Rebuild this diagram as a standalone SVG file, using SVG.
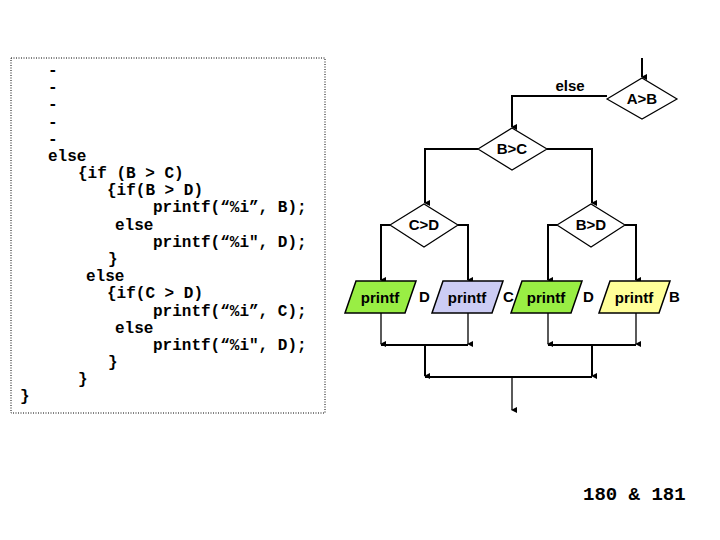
<svg xmlns="http://www.w3.org/2000/svg" width="720" height="540" viewBox="0 0 720 540">
<defs>
<marker id="ah" markerWidth="8" markerHeight="8" refX="4" refY="6" orient="auto" markerUnits="userSpaceOnUse" viewBox="0 0 8 8"><path d="M1,1 L4,7 L7,1 Z" fill="#000"/></marker>
<style>
.code{font-family:"Liberation Mono",monospace;font-weight:bold;font-size:16px;fill:#000}
.lbl{font-family:"Liberation Sans",Arial,sans-serif;font-weight:bold;font-size:15px;fill:#000}
.ln{fill:none;stroke:#000;stroke-width:2}
.thin{fill:none;stroke:#000;stroke-width:1.3}
.dia{fill:#fff;stroke:#000;stroke-width:1.2}
.par{stroke:#000;stroke-width:1.5}
</style>
</defs>
<rect x="11" y="58" width="314" height="355" fill="#fff" stroke="#000" stroke-width="1" stroke-dasharray="1,1.5"/>
<g class="code">
<text x="48" y="75">-</text>
<text x="48" y="92">-</text>
<text x="48" y="109">-</text>
<text x="48" y="127">-</text>
<text x="48" y="144">-</text>
<text x="48" y="161">else</text>
<text x="78" y="178">{if (B &gt; C)</text>
<text x="107" y="195">{if(B &gt; D)</text>
<text x="153" y="212">printf(“%i”, B);</text>
<text x="115" y="230">else</text>
<text x="153" y="247">printf(“%i″, D);</text>
<text x="108" y="264">}</text>
<text x="86" y="281">else</text>
<text x="107" y="298">{if(C &gt; D)</text>
<text x="153" y="316">printf(“%i”, C);</text>
<text x="115" y="333">else</text>
<text x="153" y="350">printf(“%i″, D);</text>
<text x="108" y="367">}</text>
<text x="78" y="384">}</text>
<text x="20" y="401">}</text>
</g>
<g id="connectors">
<path class="ln" d="M642,58 V77" marker-end="url(#ah)"/>
<path class="ln" d="M607,96 H512 V127" marker-end="url(#ah)"/>
<path class="ln" d="M478,149 H425 V203" marker-end="url(#ah)"/>
<path class="ln" d="M547,149 H592 V203" marker-end="url(#ah)"/>
<path class="ln" d="M390,225 H381 V280" marker-end="url(#ah)"/>
<path class="ln" d="M458,225 H468 V280" marker-end="url(#ah)"/>
<path class="ln" d="M557,225 H548 V280" marker-end="url(#ah)"/>
<path class="ln" d="M625,225 H636 V280" marker-end="url(#ah)"/>
<path class="thin" d="M381,313 V344" marker-end="url(#ah)"/>
<path class="thin" d="M468,313 V344" marker-end="url(#ah)"/>
<path class="thin" d="M548,313 V344" marker-end="url(#ah)"/>
<path class="thin" d="M636,313 V344" marker-end="url(#ah)"/>
<path class="ln" d="M381,345 H468 M548,345 H636"/>
<path class="ln" d="M425,345 V376" marker-end="url(#ah)"/>
<path class="ln" d="M592,345 V376" marker-end="url(#ah)"/>
<path class="ln" d="M425,377 H592"/>
<path class="thin" d="M512,377 V410" marker-end="url(#ah)"/>
<text x="570" y="91" class="lbl" font-size="19" text-anchor="middle">else</text>
</g>
<g id="AgtB"><path class="dia" d="M607,99 L642,78 L677,99 L642,119 Z"/><text x="642" y="104" class="lbl" text-anchor="middle">A&gt;B</text></g>
<g id="BgtC"><path class="dia" d="M478,149 L512,128 L547,149 L512,170 Z"/><text x="512" y="154" class="lbl" text-anchor="middle">B&gt;C</text></g>
<g id="CgtD"><path class="dia" d="M390,225 L424,204 L458,225 L424,247 Z"/><text x="424" y="230" class="lbl" text-anchor="middle">C&gt;D</text></g>
<g id="BgtD"><path class="dia" d="M557,225 L591,204 L625,225 L591,247 Z"/><text x="591" y="230" class="lbl" text-anchor="middle">B&gt;D</text></g>
<g id="p1"><path class="par" fill="#99ee44" d="M356,281 H416 L405,313 H345 Z"/><text x="380" y="303" class="lbl" text-anchor="middle">printf</text><text x="419" y="302" class="lbl">D</text></g>
<g id="p2"><path class="par" fill="#ccccf4" d="M443,281 H503 L492,313 H432 Z"/><text x="467" y="303" class="lbl" text-anchor="middle">printf</text><text x="503" y="302" class="lbl">C</text></g>
<g id="p3"><path class="par" fill="#99ee44" d="M522,281 H582 L571,313 H511 Z"/><text x="546" y="303" class="lbl" text-anchor="middle">printf</text><text x="583" y="302" class="lbl">D</text></g>
<g id="p4"><path class="par" fill="#ffff99" d="M610,281 H670 L659,313 H599 Z"/><text x="634" y="303" class="lbl" text-anchor="middle">printf</text><text x="669" y="302" class="lbl">B</text></g>
<text x="583" y="500" font-family="Liberation Mono,monospace" font-weight="bold" font-size="19" fill="#000">180 &amp; 181</text>
</svg>
